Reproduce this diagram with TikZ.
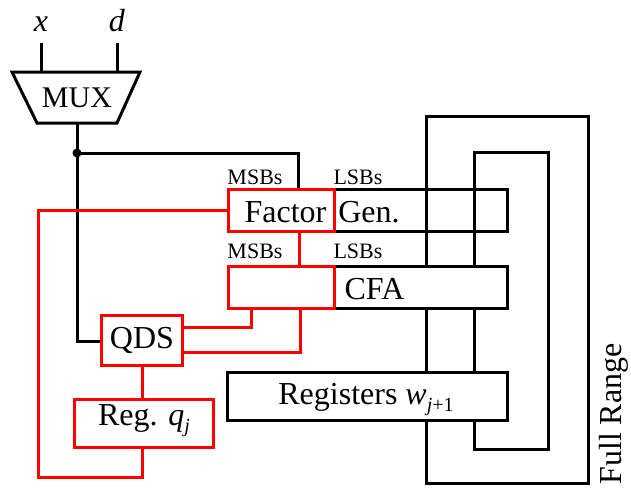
\documentclass[tikz,border=0pt]{standalone}
\usepackage{fontspec}
\setmainfont{Liberation Serif}
\tikzset{
  blk/.style={draw=black, line width=3pt},
  rd/.style={draw=red, line width=3pt},
  big/.style={font=\fontsize{32}{36}\selectfont, inner sep=0pt},
  small/.style={font=\fontsize{22}{26}\selectfont, inner sep=0pt},
}
\newcommand{\mysub}[1]{\raisebox{-7pt}{\fontsize{20}{22}\selectfont #1}}
\begin{document}
\begin{tikzpicture}[x=1pt,y=-1pt, line join=miter]
\useasboundingbox (0,0) rectangle (631,488);
% coordinates
\coordinate (xin) at (41,43);
\coordinate (xmux) at (41,72);
\coordinate (din) at (117,43);
\coordinate (dmux) at (117,72);
\coordinate (muxout) at (77,123);
\coordinate (junc) at (77,153);
\coordinate (qdsin) at (77,341);
\coordinate (fgtop) at (298,153);
% loops
\draw[blk] (426,116) rectangle (588,483);
\draw[blk] (474,152) rectangle (548,449);
% labels x d
\node[big, anchor=base] (xl) at (41,31) {\textit{x}};
\node[big, anchor=base] (dl) at (117,31) {\textit{d}};
\draw[blk] (xin) -- (xmux);
\draw[blk] (din) -- (dmux);
% MUX
\draw[blk] (12,72) -- (140,72) -- (117,123) -- (37,123) -- cycle;
\node[font=\fontsize{30}{34}\selectfont, inner sep=0pt] (mux) at (77,98) {MUX};
% black wires
\draw[blk] (muxout) -- (qdsin) -- (102,341);
\draw[blk] (junc) -- (fgtop) -- (298,189);
\fill (junc) circle (4.5);
% Gen box
\draw[blk] (334,189) rectangle (507,231);
\draw[rd] (228,189) rectangle (334,231);
% CFA
\draw[blk, fill=white] (334,266) rectangle (507,308);
\draw[rd] (228,266) rectangle (334,308);
% Registers
\draw[blk, fill=white] (227,372) rectangle (507,420);
% QDS and Reg q
\node[rd, minimum width=81pt, minimum height=50pt, big] (qds) at (142,340) {QDS};
\node[rd, minimum width=139pt, minimum height=48pt, big] (regq) at (143.5,423) {};
\node[big] (regqt) at (144,421) {Reg. \textit{q}\mysub{\textit{j}}};
% red wires
\draw[rd] (251,231) ++(48,0) -- ++(0,35);
\draw[rd] (251,308) -- (251,327) -- (183,327);
\draw[rd] (300,308) -- (300,352) -- (183,352);
\draw[rd] (qds.south) -- (qds.south |- regq.north);
\draw[rd] (qds.south |- regq.south) -- (142,477) -- (38,477) -- (38,210) -- (228,210);
% texts
\node[small, anchor=base] (m1) at (255,184) {MSBs};
\node[small, anchor=base] (l1) at (358,184) {LSBs};
\node[small, anchor=base] (m2) at (255,258) {MSBs};
\node[small, anchor=base] (l2) at (358,258) {LSBs};
\node[big, anchor=base] (fac) at (285.5,222) {Factor};
\node[big, anchor=base] (gen) at (369,222) {Gen.};
\node[big, anchor=base] (cfa) at (374.5,299) {CFA};
\node[big, anchor=base] (regt) at (366,404) {Registers \textit{w}\mysub{\textit{j}+1}};
\node[big, rotate=90] (fr) at (614,414) {Full Range};
\end{tikzpicture}
\end{document}
